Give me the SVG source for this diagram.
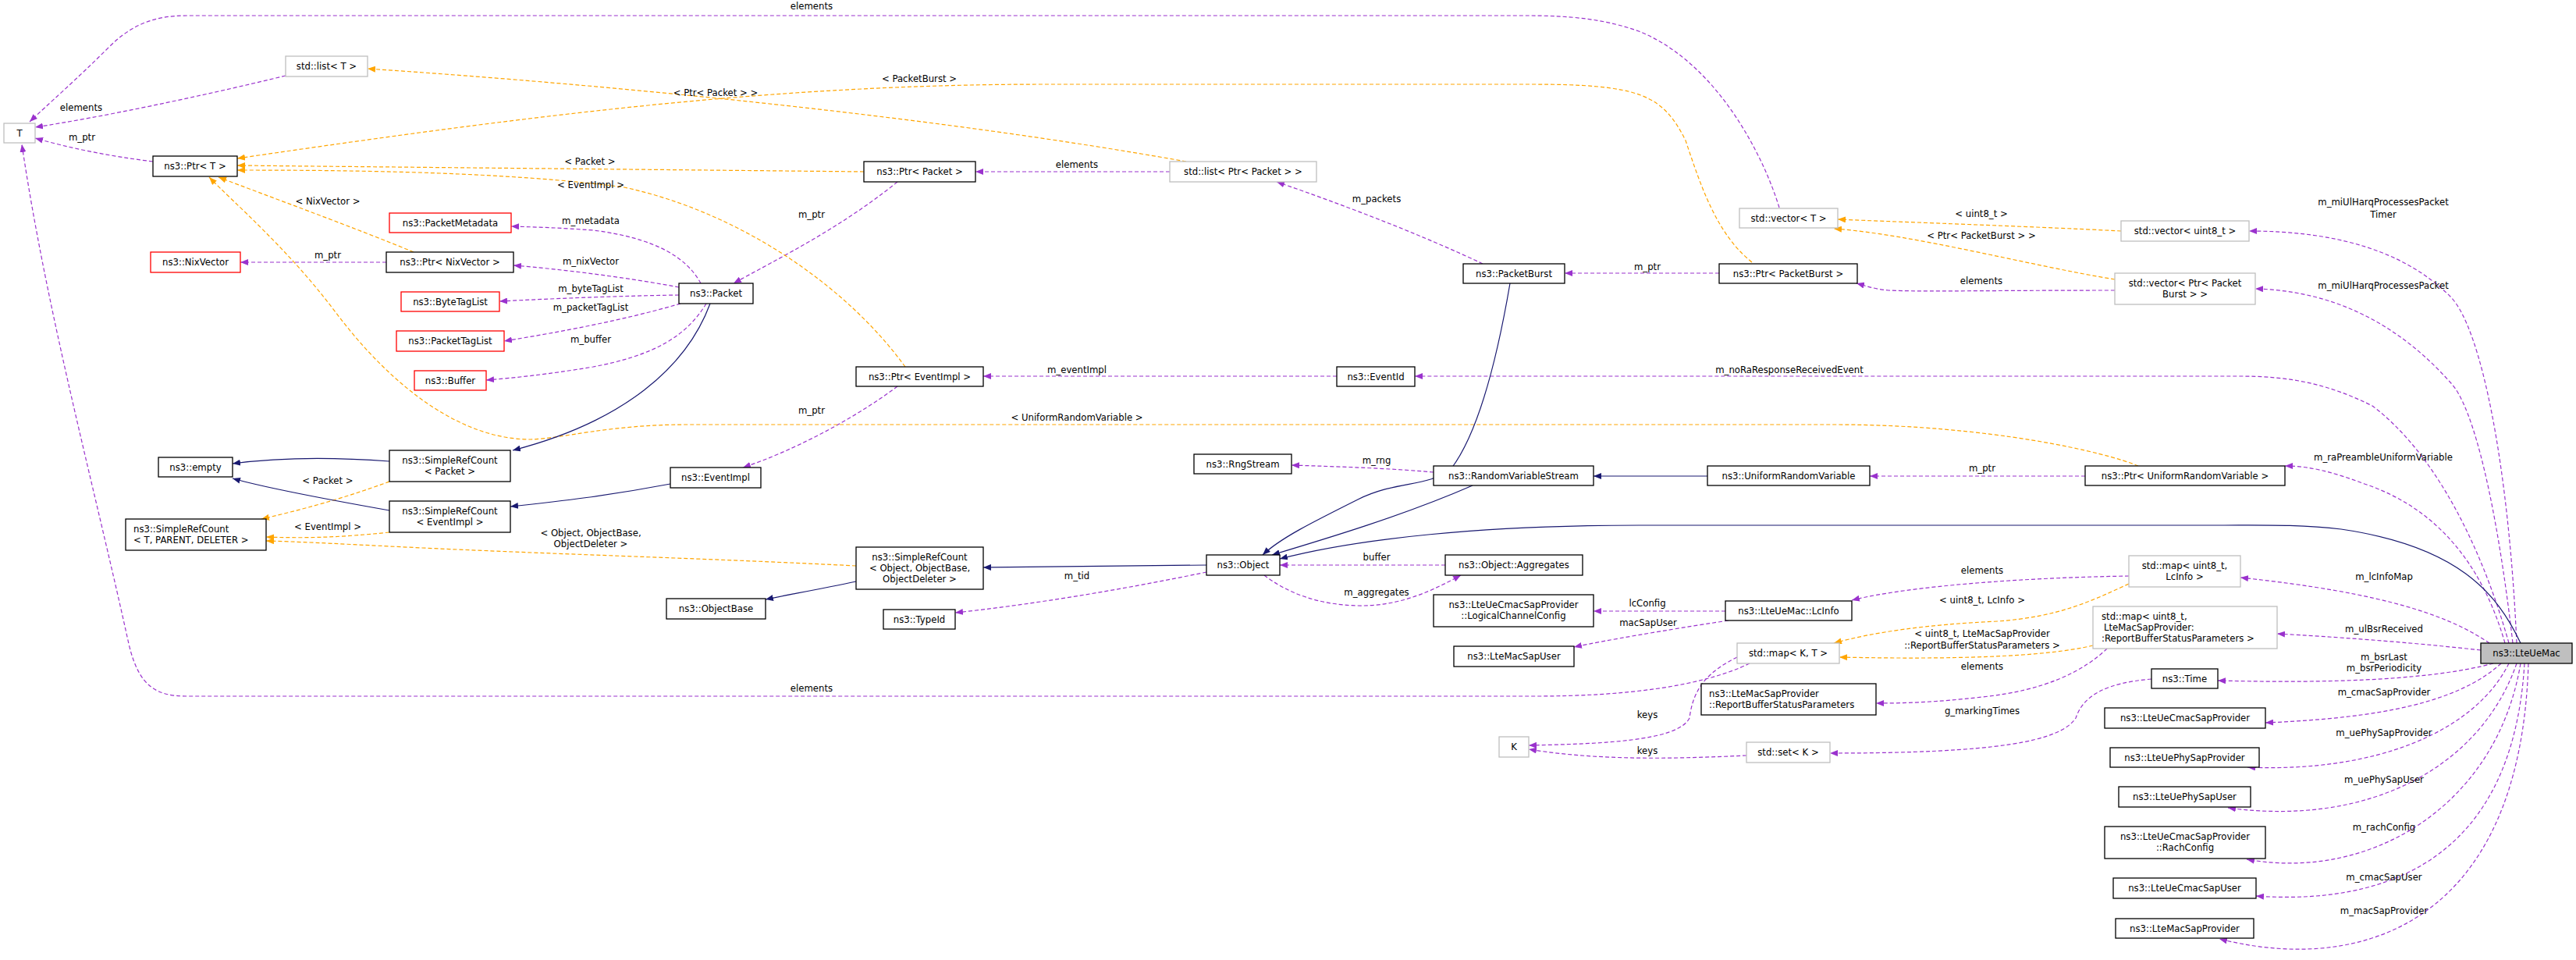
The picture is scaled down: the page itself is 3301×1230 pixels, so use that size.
<svg xmlns="http://www.w3.org/2000/svg" width="3301" height="1230" viewBox="0 0 3301 1230">
<style>
text{font-family:"DejaVu Sans","Liberation Sans",sans-serif;font-size:11.7px;fill:#000}
.n rect{fill:#fff;stroke:#000;stroke-width:1.3}
.g rect{fill:#fff;stroke:#bfbfbf;stroke-width:1.3}
.r rect{fill:#fff;stroke:#ff0000;stroke-width:1.3}
.m rect{fill:#bfbfbf;stroke:#000;stroke-width:1.3}
.c{text-anchor:middle}
.p{fill:none;stroke:#9a32cd;stroke-width:1.2;stroke-dasharray:5,3;marker-end:url(#ap)}
.o{fill:none;stroke:#ffa500;stroke-width:1.2;stroke-dasharray:5,3;marker-end:url(#ao)}
.v{fill:none;stroke:#191970;stroke-width:1.2;marker-end:url(#av)}
.l{text-anchor:middle}
</style>
<defs>
<marker id="ap" markerUnits="userSpaceOnUse" markerWidth="11" markerHeight="8" refX="10" refY="4" orient="auto"><path d="M0,0 L10,4 L0,8 z" fill="#9a32cd"/></marker>
<marker id="ao" markerUnits="userSpaceOnUse" markerWidth="11" markerHeight="8" refX="10" refY="4" orient="auto"><path d="M0,0 L10,4 L0,8 z" fill="#ffa500"/></marker>
<marker id="av" markerUnits="userSpaceOnUse" markerWidth="11" markerHeight="8" refX="10" refY="4" orient="auto"><path d="M0,0 L10,4 L0,8 z" fill="#191970"/></marker>
</defs>
<rect width="3301" height="1230" fill="#fff"/>
<g id="edges">
<path class="p" d="M2280,266 C2260,200 2200,80 2100,40 C2050,22 2000,20 1955,20 L240,20 C200,20 170,30 140,60 C100,100 60,135 38,156"/>
<text class="l" x="1040" y="12">elements</text>
<path class="p" d="M366,97 C250,125 130,150 45,163"/>
<text class="l" x="104" y="142">elements</text>
<path class="p" d="M196,207 C140,200 90,190 45,177"/>
<text class="l" x="105" y="180">m_ptr</text>
<path class="p" d="M2242,850 C2180,880 2080,892 1968,892 L240,892 C200,892 178,880 165,825 C120,620 60,400 28,185"/>
<text class="l" x="1040" y="886">elements</text>
<path class="p" d="M495,336 L308,336"/>
<text class="l" x="420" y="331">m_ptr</text>
<path class="p" d="M898,363 C880,330 840,305 760,295 C720,292 690,291 655,290"/>
<text class="l" x="757" y="287">m_metadata</text>
<path class="p" d="M870,368 C800,355 720,345 658,340"/>
<text class="l" x="757" y="339">m_nixVector</text>
<path class="p" d="M870,378 C800,379 720,382 640,386"/>
<text class="l" x="757" y="374">m_byteTagList</text>
<path class="p" d="M872,389 C800,410 720,425 646,437"/>
<text class="l" x="757" y="398">m_packetTagList</text>
<path class="p" d="M905,389 C880,430 840,455 760,470 C700,480 660,484 623,487"/>
<text class="l" x="757" y="439">m_buffer</text>
<path class="p" d="M1150,233 C1080,290 1000,330 940,363"/>
<text class="l" x="1040" y="279">m_ptr</text>
<path class="p" d="M1499,220 L1250,220"/>
<text class="l" x="1380" y="215">elements</text>
<path class="p" d="M1900,338 C1820,300 1720,262 1636,233"/>
<text class="l" x="1764" y="259">m_packets</text>
<path class="p" d="M2203,350 L2005,350"/>
<text class="l" x="2111" y="346">m_ptr</text>
<path class="p" d="M2710,372 C2550,372 2460,374 2420,372 C2400,370 2390,366 2379,363"/>
<text class="l" x="2539" y="364">elements</text>
<path class="p" d="M1150,495 C1090,540 1010,580 952,599"/>
<text class="l" x="1040" y="530">m_ptr</text>
<path class="p" d="M1713,482 L1260,482"/>
<text class="l" x="1380" y="478">m_eventImpl</text>
<path class="p" d="M1837,605 C1780,600 1720,598 1655,596"/>
<text class="l" x="1764" y="594">m_rng</text>
<path class="p" d="M2672,610 L2396,610"/>
<text class="l" x="2540" y="604">m_ptr</text>
<path class="p" d="M1546,733 C1440,755 1320,775 1224,785"/>
<text class="l" x="1380" y="742">m_tid</text>
<path class="p" d="M1852,724 L1640,724"/>
<text class="l" x="1764" y="718">buffer</text>
<path class="p" d="M1620,737 C1650,760 1690,775 1740,776 C1790,777 1830,760 1872,737"/>
<text class="l" x="1764" y="763">m_aggregates</text>
<path class="p" d="M2211,783 L2042,783"/>
<text class="l" x="2111" y="777">lcConfig</text>
<path class="p" d="M2215,795 C2130,808 2060,820 2017,829"/>
<text class="l" x="2112" y="802">macSapUser</text>
<path class="p" d="M2728,738 C2600,740 2450,750 2373,769"/>
<text class="l" x="2540" y="735">elements</text>
<path class="p" d="M2700,831 C2670,860 2620,885 2540,893 C2480,900 2440,901 2404,901"/>
<text class="l" x="2540" y="858">elements</text>
<path class="p" d="M2757,870 C2700,875 2670,890 2660,920 C2640,950 2560,965 2345,965"/>
<text class="l" x="2540" y="915">g_markingTimes</text>
<path class="p" d="M2226,842 C2190,860 2170,880 2165,920 C2150,950 2050,953 1959,955"/>
<text class="l" x="2111" y="920">keys</text>
<path class="p" d="M2238,968 C2150,972 2050,975 1959,960"/>
<text class="l" x="2111" y="966">keys</text>
<path class="p" d="M3225,824 C3215,600 3180,420 3140,380 C3080,320 2990,296 2882,296"/>
<text class="l" x="3054" y="263">m_miUlHarqProcessesPacket</text>
<text class="l" x="3054" y="279">Timer</text>
<path class="p" d="M3220,824 C3200,650 3170,520 3140,490 C3060,400 2970,372 2890,370"/>
<text class="l" x="3054" y="370">m_miUlHarqProcessesPacket</text>
<path class="p" d="M3215,824 C3180,700 3120,580 3040,520 C2980,490 2930,482 2870,482 L1813,482"/>
<text class="l" x="2293" y="478">m_noRaResponseReceivedEvent</text>
<path class="p" d="M3210,824 C3180,720 3120,650 3030,620 C2990,605 2960,597 2928,597"/>
<text class="l" x="3054" y="590">m_raPreambleUniformVariable</text>
<path class="p" d="M3190,824 C3140,790 3060,760 2871,740"/>
<text class="l" x="3055" y="743">m_lcInfoMap</text>
<path class="p" d="M3179,833 C3080,822 2990,816 2918,812"/>
<text class="l" x="3055" y="810">m_ulBsrReceived</text>
<path class="p" d="M3195,850 C3120,870 3000,876 2842,872"/>
<text class="l" x="3055" y="846">m_bsrLast</text>
<text class="l" x="3055" y="860">m_bsrPeriodicity</text>
<path class="p" d="M3205,850 C3150,900 3050,920 2903,926"/>
<text class="l" x="3055" y="891">m_cmacSapProvider</text>
<path class="p" d="M3215,850 C3170,940 3040,990 2880,983"/>
<text class="l" x="3055" y="943">m_uePhySapProvider</text>
<path class="p" d="M3225,850 C3180,980 3040,1060 2855,1035"/>
<text class="l" x="3055" y="1003">m_uePhySapUser</text>
<path class="p" d="M3230,850 C3200,1030 3040,1130 2879,1101"/>
<text class="l" x="3055" y="1064">m_rachConfig</text>
<path class="p" d="M3235,850 C3220,1100 3060,1160 2891,1148"/>
<text class="l" x="3055" y="1128">m_cmacSapUser</text>
<path class="p" d="M3240,850 C3230,1180 3030,1250 2844,1203"/>
<text class="l" x="3055" y="1171">m_macSapProvider</text>
<path class="o" d="M1520,207 C1200,150 800,110 471,88"/>
<text class="l" x="917" y="123">&lt; Ptr&lt; Packet &gt; &gt;</text>
<path class="o" d="M2245,336 C2200,300 2180,240 2160,180 C2130,120 2100,108 1960,108 L1340,108 C1000,108 700,145 304,203"/>
<text class="l" x="1178" y="105">&lt; PacketBurst &gt;</text>
<path class="o" d="M1107,220 L304,212"/>
<text class="l" x="756" y="211">&lt; Packet &gt;</text>
<path class="o" d="M1160,470 C1080,360 940,270 800,240 C650,220 450,218 304,218"/>
<text class="l" x="757" y="241">&lt; EventImpl &gt;</text>
<path class="o" d="M530,323 C450,290 340,250 280,227"/>
<text class="l" x="420" y="262">&lt; NixVector &gt;</text>
<path class="o" d="M2740,597 C2700,580 2550,544 2350,544 L880,544 C780,544 720,562 680,563 C580,563 490,480 430,400 C370,320 300,260 268,227"/>
<text class="l" x="1380" y="539">&lt; UniformRandomVariable &gt;</text>
<path class="o" d="M499,617 C450,635 400,650 335,665"/>
<text class="l" x="420" y="620">&lt; Packet &gt;</text>
<path class="o" d="M499,682 C440,688 400,690 341,688"/>
<text class="l" x="420" y="679">&lt; EventImpl &gt;</text>
<path class="o" d="M1097,725 C900,715 700,710 500,700 C420,696 380,694 341,693"/>
<text class="l" x="757" y="687">&lt; Object, ObjectBase,</text>
<text class="l" x="757" y="701">ObjectDeleter &gt;</text>
<path class="o" d="M2718,296 C2600,290 2450,285 2355,281"/>
<text class="l" x="2539" y="278">&lt; uint8_t &gt;</text>
<path class="o" d="M2710,358 C2600,340 2450,300 2350,293"/>
<text class="l" x="2539" y="306">&lt; Ptr&lt; PacketBurst &gt; &gt;</text>
<path class="o" d="M2728,748 C2680,770 2640,790 2560,796 C2470,800 2400,810 2350,824"/>
<text class="l" x="2540" y="773">&lt; uint8_t, LcInfo &gt;</text>
<path class="o" d="M2682,827 C2620,842 2500,845 2357,842"/>
<text class="l" x="2540" y="816">&lt; uint8_t, LteMacSapProvider</text>
<text class="l" x="2540" y="831">::ReportBufferStatusParameters &gt;</text>
<path class="v" d="M910,389 C880,470 800,540 657,577"/>
<path class="v" d="M499,591 C420,585 350,587 298,594"/>
<path class="v" d="M499,654 C420,640 340,625 298,613"/>
<path class="v" d="M859,620 C780,635 720,642 654,649"/>
<path class="v" d="M1097,745 C1050,755 1010,762 981,768"/>
<path class="v" d="M1546,724 L1260,727"/>
<path class="v" d="M1935,363 C1915,480 1890,560 1860,600 C1830,625 1790,615 1740,640 C1680,670 1640,690 1618,711"/>
<path class="v" d="M1887,622 C1800,660 1700,690 1630,711"/>
<path class="v" d="M2188,610 L2042,610"/>
<path class="v" d="M3230,824 C3200,760 3150,700 3000,678 C2950,672 2900,673 2850,673 L2100,673 C1900,673 1740,690 1640,716"/>
</g>
<g id="T" class="g"><rect x="5" y="158" width="40" height="25"/><text class="c" x="25" y="175">T</text></g>
<g id="listT" class="g"><rect x="366" y="72" width="105" height="26"/><text class="c" x="418.5" y="89">std::list&lt; T &gt;</text></g>
<g id="PtrT" class="n"><rect x="196" y="200" width="108" height="26"/><text class="c" x="250" y="217">ns3::Ptr&lt; T &gt;</text></g>
<g id="PacketMetadata" class="r"><rect x="499" y="273" width="156" height="25"/><text class="c" x="577" y="290">ns3::PacketMetadata</text></g>
<g id="NixVector" class="r"><rect x="193" y="323" width="115" height="26"/><text class="c" x="250.5" y="340">ns3::NixVector</text></g>
<g id="PtrNixVector" class="n"><rect x="495" y="323" width="163" height="26"/><text class="c" x="576.5" y="340">ns3::Ptr&lt; NixVector &gt;</text></g>
<g id="ByteTagList" class="r"><rect x="514" y="374" width="126" height="25"/><text class="c" x="577" y="391">ns3::ByteTagList</text></g>
<g id="PacketTagList" class="r"><rect x="508" y="424" width="138" height="26"/><text class="c" x="577" y="441">ns3::PacketTagList</text></g>
<g id="Buffer" class="r"><rect x="531" y="475" width="92" height="25"/><text class="c" x="577" y="492">ns3::Buffer</text></g>
<g id="empty" class="n"><rect x="203" y="586" width="95" height="25"/><text class="c" x="250.5" y="603">ns3::empty</text></g>
<g id="SRCPacket" class="n"><rect x="499" y="577" width="155" height="40"/><text class="c" x="576.5" y="594">ns3::SimpleRefCount</text><text class="c" x="576.5" y="608">&lt; Packet &gt;</text></g>
<g id="SRCEventImpl" class="n"><rect x="499" y="642" width="155" height="40"/><text class="c" x="576.5" y="659">ns3::SimpleRefCount</text><text class="c" x="576.5" y="673">&lt; EventImpl &gt;</text></g>
<g id="SRCT" class="n"><rect x="161" y="665" width="180" height="40"/><text x="171" y="682">ns3::SimpleRefCount</text><text x="171" y="696">&lt; T, PARENT, DELETER &gt;</text></g>
<g id="PtrPacket" class="n"><rect x="1107" y="207" width="143" height="26"/><text class="c" x="1178.5" y="224">ns3::Ptr&lt; Packet &gt;</text></g>
<g id="listPtrPacket" class="g"><rect x="1499" y="207" width="188" height="26"/><text class="c" x="1593" y="224">std::list&lt; Ptr&lt; Packet &gt; &gt;</text></g>
<g id="Packet" class="n"><rect x="870" y="363" width="95" height="26"/><text class="c" x="917.5" y="380">ns3::Packet</text></g>
<g id="PtrEventImpl" class="n"><rect x="1097" y="470" width="163" height="25"/><text class="c" x="1178.5" y="487">ns3::Ptr&lt; EventImpl &gt;</text></g>
<g id="EventImpl" class="n"><rect x="859" y="599" width="116" height="26"/><text class="c" x="917" y="616">ns3::EventImpl</text></g>
<g id="RngStream" class="n"><rect x="1530" y="582" width="125" height="25"/><text class="c" x="1592.5" y="599">ns3::RngStream</text></g>
<g id="SRCObject" class="n"><rect x="1097" y="701" width="163" height="54"/><text class="c" x="1178.5" y="718">ns3::SimpleRefCount</text><text class="c" x="1178.5" y="732">&lt; Object, ObjectBase,</text><text class="c" x="1178.5" y="746">ObjectDeleter &gt;</text></g>
<g id="Object" class="n"><rect x="1546" y="711" width="94" height="26"/><text class="c" x="1593" y="728">ns3::Object</text></g>
<g id="ObjectBase" class="n"><rect x="854" y="767" width="127" height="26"/><text class="c" x="917.5" y="784">ns3::ObjectBase</text></g>
<g id="TypeId" class="n"><rect x="1132" y="781" width="92" height="25"/><text class="c" x="1178" y="798">ns3::TypeId</text></g>
<g id="vectorT" class="g"><rect x="2229" y="267" width="126" height="25"/><text class="c" x="2292" y="284">std::vector&lt; T &gt;</text></g>
<g id="PacketBurst" class="n"><rect x="1875" y="338" width="130" height="25"/><text class="c" x="1940" y="355">ns3::PacketBurst</text></g>
<g id="PtrPacketBurst" class="n"><rect x="2203" y="338" width="177" height="25"/><text class="c" x="2291.5" y="355">ns3::Ptr&lt; PacketBurst &gt;</text></g>
<g id="EventId" class="n"><rect x="1713" y="470" width="100" height="25"/><text class="c" x="1763" y="487">ns3::EventId</text></g>
<g id="RandomVariableStream" class="n"><rect x="1837" y="597" width="205" height="25"/><text class="c" x="1939.5" y="614">ns3::RandomVariableStream</text></g>
<g id="UniformRandomVariable" class="n"><rect x="2188" y="597" width="208" height="25"/><text class="c" x="2292" y="614">ns3::UniformRandomVariable</text></g>
<g id="Aggregates" class="n"><rect x="1852" y="711" width="176" height="26"/><text class="c" x="1940" y="728">ns3::Object::Aggregates</text></g>
<g id="LogicalChannelConfig" class="n"><rect x="1837" y="762" width="205" height="41"/><text class="c" x="1939.5" y="779">ns3::LteUeCmacSapProvider</text><text class="c" x="1939.5" y="793">::LogicalChannelConfig</text></g>
<g id="LcInfo" class="n"><rect x="2211" y="770" width="162" height="25"/><text class="c" x="2292" y="787">ns3::LteUeMac::LcInfo</text></g>
<g id="LteMacSapUser" class="n"><rect x="1863" y="828" width="154" height="26"/><text class="c" x="1940" y="845">ns3::LteMacSapUser</text></g>
<g id="mapKT" class="g"><rect x="2226" y="824" width="131" height="26"/><text class="c" x="2291.5" y="841">std::map&lt; K, T &gt;</text></g>
<g id="RBSP" class="n"><rect x="2180" y="876" width="224" height="40"/><text x="2190" y="893">ns3::LteMacSapProvider</text><text x="2190" y="907">::ReportBufferStatusParameters</text></g>
<g id="K" class="g"><rect x="1921" y="944" width="38" height="26"/><text class="c" x="1940" y="961">K</text></g>
<g id="setK" class="g"><rect x="2238" y="951" width="107" height="26"/><text class="c" x="2291.5" y="968">std::set&lt; K &gt;</text></g>
<g id="vectorU8" class="g"><rect x="2718" y="283" width="164" height="26"/><text class="c" x="2800" y="300">std::vector&lt; uint8_t &gt;</text></g>
<g id="vectorPPB" class="g"><rect x="2710" y="350" width="180" height="40"/><text class="c" x="2800" y="367">std::vector&lt; Ptr&lt; Packet</text><text class="c" x="2800" y="381">Burst &gt; &gt;</text></g>
<g id="PtrURV" class="n"><rect x="2672" y="597" width="256" height="25"/><text class="c" x="2800" y="614">ns3::Ptr&lt; UniformRandomVariable &gt;</text></g>
<g id="mapLcInfo" class="g"><rect x="2728" y="712" width="143" height="40"/><text class="c" x="2799.5" y="729">std::map&lt; uint8_t,</text><text class="c" x="2799.5" y="743">LcInfo &gt;</text></g>
<g id="mapRBSP" class="g"><rect x="2682" y="777" width="236" height="54"/><text x="2693" y="794">std::map&lt; uint8_t,</text><text x="2696" y="808">LteMacSapProvider:</text><text x="2693" y="822">:ReportBufferStatusParameters &gt;</text></g>
<g id="Time" class="n"><rect x="2757" y="857" width="85" height="25"/><text class="c" x="2799.5" y="874">ns3::Time</text></g>
<g id="LteUeCmacSapProvider" class="n"><rect x="2697" y="907" width="206" height="26"/><text class="c" x="2800" y="924">ns3::LteUeCmacSapProvider</text></g>
<g id="LteUePhySapProvider" class="n"><rect x="2704" y="958" width="191" height="25"/><text class="c" x="2799.5" y="975">ns3::LteUePhySapProvider</text></g>
<g id="LteUePhySapUser" class="n"><rect x="2715" y="1008" width="169" height="26"/><text class="c" x="2799.5" y="1025">ns3::LteUePhySapUser</text></g>
<g id="RachConfig" class="n"><rect x="2697" y="1059" width="206" height="41"/><text class="c" x="2800" y="1076">ns3::LteUeCmacSapProvider</text><text class="c" x="2800" y="1090">::RachConfig</text></g>
<g id="LteUeCmacSapUser" class="n"><rect x="2708" y="1125" width="183" height="26"/><text class="c" x="2799.5" y="1142">ns3::LteUeCmacSapUser</text></g>
<g id="LteMacSapProvider" class="n"><rect x="2711" y="1177" width="177" height="25"/><text class="c" x="2799.5" y="1194">ns3::LteMacSapProvider</text></g>
<g id="LteUeMac" class="m"><rect x="3179" y="824" width="117" height="26"/><text class="c" x="3237.5" y="841">ns3::LteUeMac</text></g>
</svg>
